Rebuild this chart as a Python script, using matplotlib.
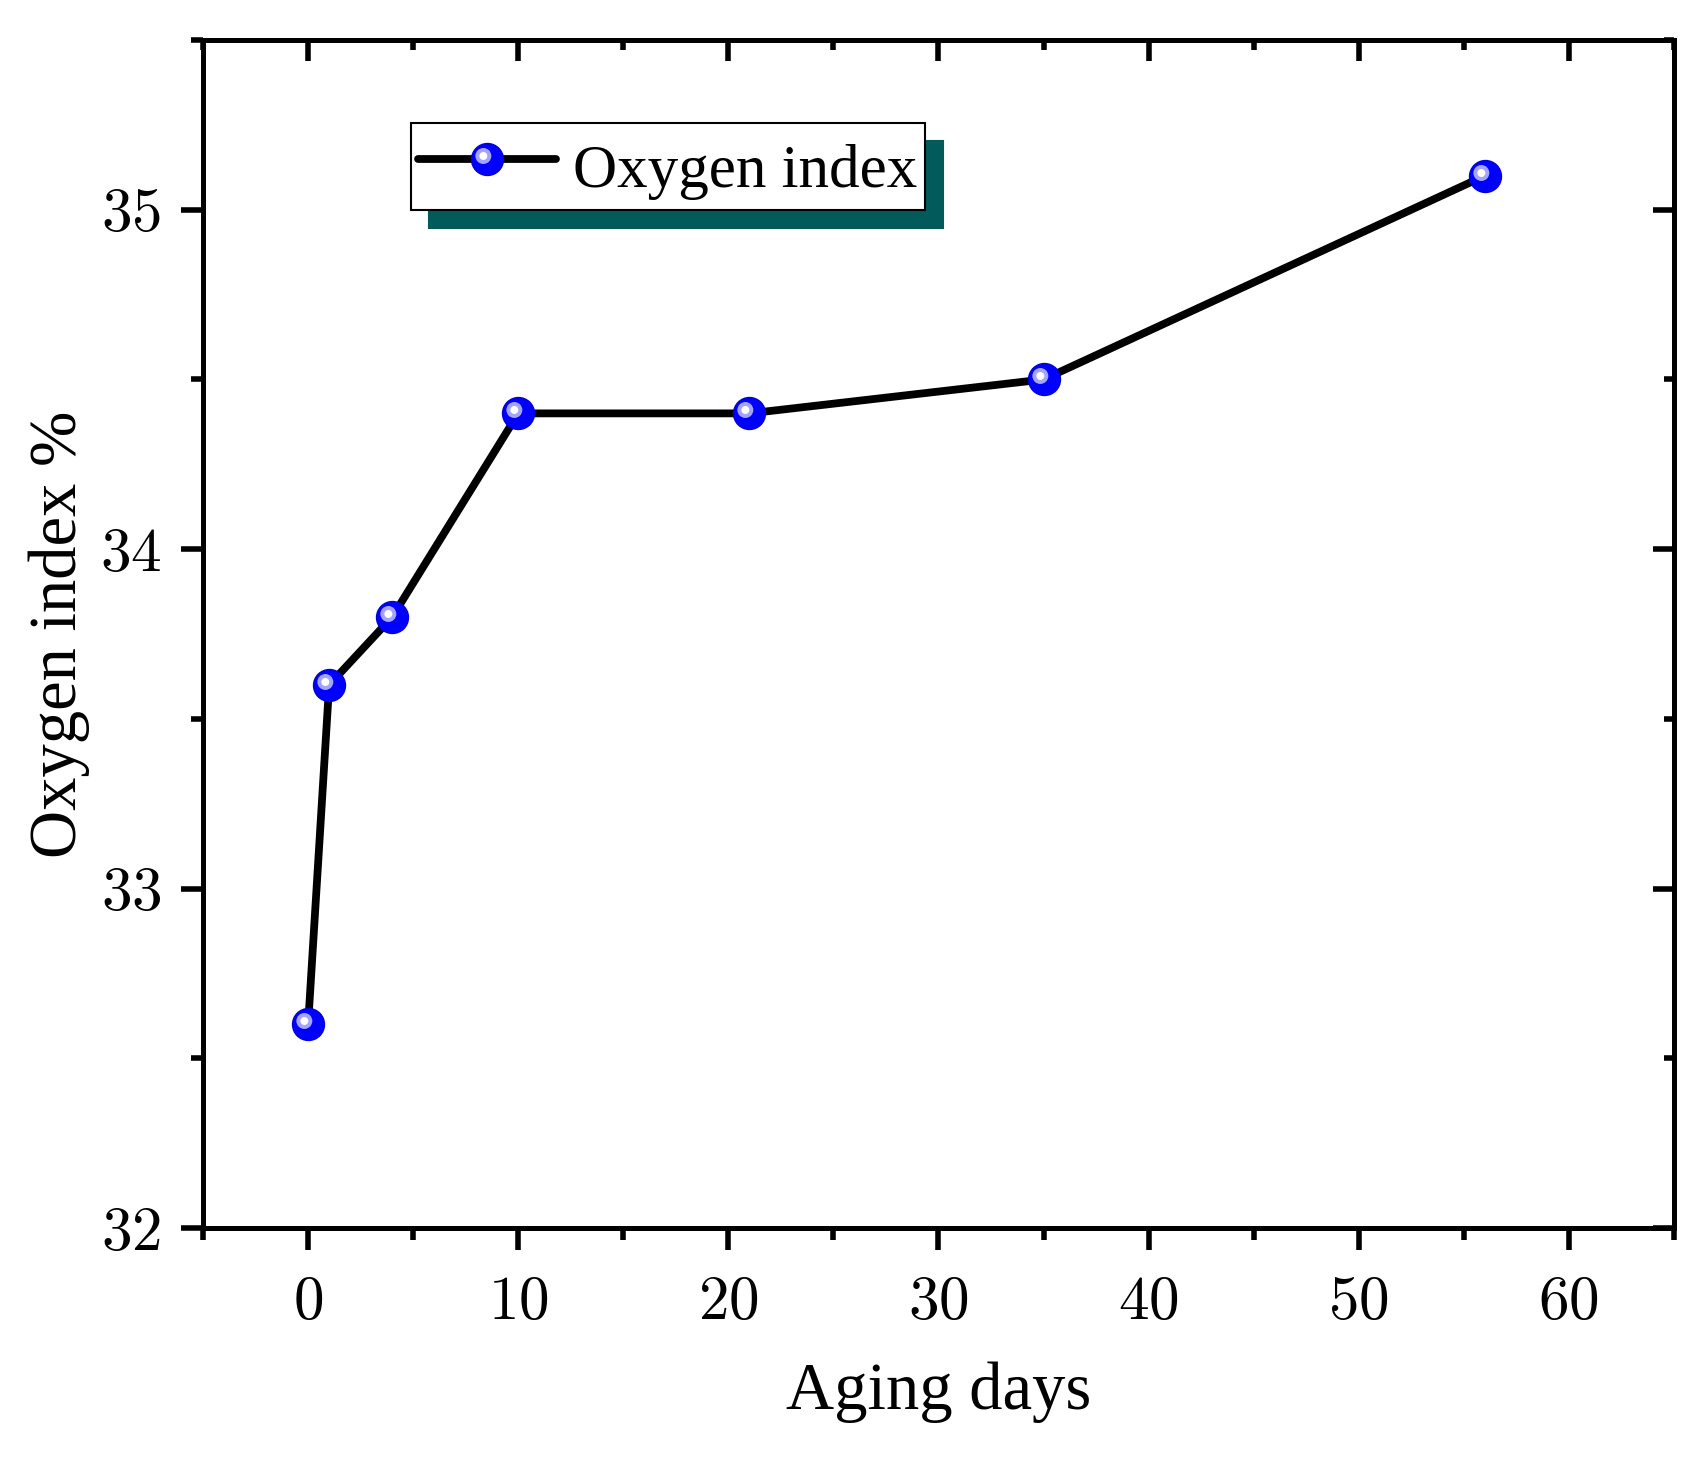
import matplotlib
matplotlib.use("Agg")
import matplotlib.pyplot as plt
from matplotlib.markers import MarkerStyle
from matplotlib.transforms import Affine2D
from matplotlib.ticker import MultipleLocator
from matplotlib.legend_handler import HandlerTuple

plt.rcParams["font.family"] = ["Liberation Serif", "DejaVu Serif"]
plt.rcParams["mathtext.fontset"] = "cm"
plt.rcParams["axes.formatter.use_mathtext"] = True

aging_days = [0, 1, 4, 10, 21, 35, 56]
oxygen_index = [32.6, 33.6, 33.8, 34.4, 34.4, 34.5, 35.1]

fig = plt.figure(figsize=(17.08, 14.6), dpi=100)
ax = fig.add_axes([0.1189, 0.1589, 0.8611, 0.8137])

# sphere-like markers: blue ball plus offset highlights
main, = ax.plot(aging_days, oxygen_index, color="black", linewidth=5.6,
                marker="o", markersize=23, markerfacecolor="#0000ff",
                markeredgecolor="#0000d8", markeredgewidth=1.0,
                solid_capstyle="round", zorder=3, label="Oxygen index")
ring = MarkerStyle("o", transform=Affine2D().scale(0.5).translate(-0.13, 0.11))
dot = MarkerStyle("o", transform=Affine2D().scale(0.25).translate(-0.13, 0.11))
hl1, = ax.plot(aging_days, oxygen_index, linestyle="none", marker=ring,
               markersize=23, markerfacecolor="#a4a4ff", markeredgewidth=0, zorder=4)
hl2, = ax.plot(aging_days, oxygen_index, linestyle="none", marker=dot,
               markersize=23, markerfacecolor="white", markeredgewidth=0, zorder=5)

ax.set_xlim(-5, 65)
ax.set_ylim(32, 35.5)
ax.xaxis.set_major_locator(MultipleLocator(10))
ax.xaxis.set_minor_locator(MultipleLocator(5))
ax.yaxis.set_major_locator(MultipleLocator(1))
ax.yaxis.set_minor_locator(MultipleLocator(0.5))

for sp in ax.spines.values():
    sp.set_linewidth(3.6)

ax.tick_params(which="major", direction="out", length=16, width=4, labelsize=44,
               pad=14)
ax.tick_params(which="minor", direction="out", length=8.5, width=4)
ax.tick_params(axis="x", which="major", pad=18)
for lbl in ax.get_xticklabels() + ax.get_yticklabels():
    lbl.set_fontfamily(["cmr10", "DejaVu Serif"])

top = ax.secondary_xaxis("top")
top.xaxis.set_major_locator(MultipleLocator(10))
top.xaxis.set_minor_locator(MultipleLocator(5))
top.tick_params(which="major", direction="in", length=15, width=4, labeltop=False)
top.tick_params(which="minor", direction="in", length=7, width=4)
top.spines["top"].set_linewidth(3.6)

right = ax.secondary_yaxis("right")
right.yaxis.set_major_locator(MultipleLocator(1))
right.yaxis.set_minor_locator(MultipleLocator(0.5))
right.tick_params(which="major", direction="in", length=15, width=4, labelright=False)
right.tick_params(which="minor", direction="in", length=7, width=4)
right.spines["right"].set_linewidth(3.6)

ax.set_xlabel("Aging days", fontsize=48, labelpad=22)
ax.set_ylabel("Oxygen index %", fontsize=48, labelpad=7)

leg = ax.legend([(main, hl1, hl2)], ["Oxygen index"],
                handler_map={tuple: HandlerTuple(ndivide=1, pad=0)},
                loc="upper left", bbox_to_anchor=(0.1414, 0.930),
                borderaxespad=0, fontsize=44, handlelength=2.25,
                handleheight=1.45, handletextpad=0.28, borderpad=0.12,
                fancybox=False, framealpha=1, edgecolor="black",
                shadow={"facecolor": "#025a5a", "edgecolor": "#025a5a",
                        "alpha": 1, "ox": 13, "oy": -13})
leg.get_frame().set_linewidth(1.5)

fig.savefig("out.png", dpi=100)
